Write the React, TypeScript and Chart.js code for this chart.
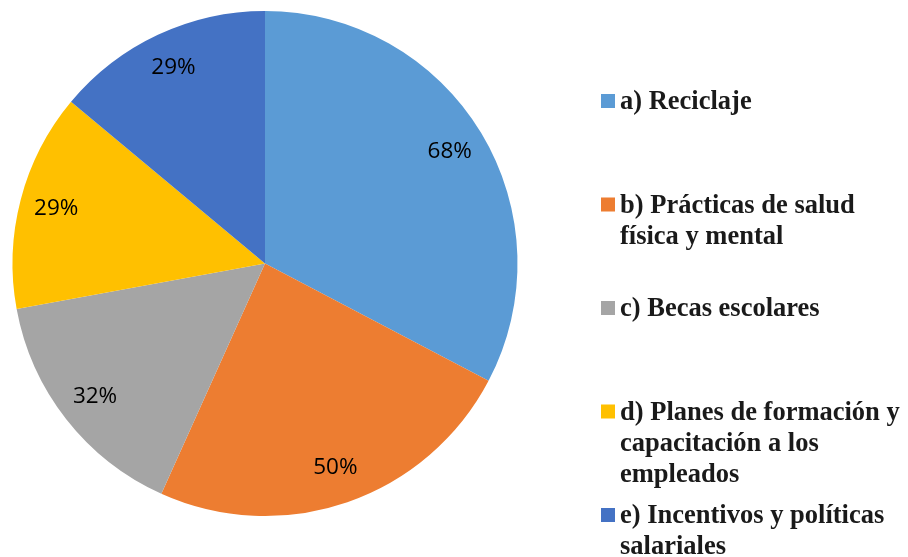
import React, { useEffect, useRef } from "react";
import { Chart, registerables } from "chart.js";

Chart.register(...registerables);

const categories: string[][] = [
  ["a) Reciclaje"],
  ["b) Prácticas de salud", "física y mental"],
  ["c) Becas escolares"],
  ["d) Planes de formación y", "capacitación a los", "empleados"],
  ["e) Incentivos y políticas", "salariales"],
];
const values: number[] = [68, 50, 32, 29, 29];
const valueLabels: string[] = ["68%", "50%", "32%", "29%", "29%"];
const colors: string[] = ["#5B9BD5", "#ED7D31", "#A5A5A5", "#FFC000", "#4472C4"];

const labelPlugin = {
  id: "sliceLabels",
  afterDatasetsDraw(chart: any) {
    const ctx = chart.ctx;
    const meta = chart.getDatasetMeta(0);
    ctx.save();
    ctx.font = "22.5px 'Open Sans', sans-serif";
    ctx.fillStyle = "#000000";
    ctx.textAlign = "center";
    ctx.textBaseline = "middle";
    meta.data.forEach((arc: any, i: number) => {
      const { x, y, startAngle, endAngle, outerRadius } = arc.getProps(
        ["x", "y", "startAngle", "endAngle", "outerRadius"],
        true
      );
      const mid = (startAngle + endAngle) / 2;
      const r = outerRadius * 0.855;
      ctx.fillText(valueLabels[i], x + Math.cos(mid) * r, y + Math.sin(mid) * r);
    });
    ctx.restore();
  },
};

const legendPlugin = {
  id: "sideLegend",
  afterDraw(chart: any) {
    const ctx = chart.ctx;
    ctx.save();
    ctx.font = "bold 26.5px 'Liberation Serif', 'Times New Roman', serif";
    ctx.textAlign = "left";
    ctx.textBaseline = "alphabetic";
    const boxX = 601;
    const textX = 620;
    const firstBaseline = 109;
    const step = 103.5;
    const lineH = 31;
    categories.forEach((lines, i) => {
      const base = firstBaseline + i * step;
      ctx.fillStyle = colors[i];
      ctx.fillRect(boxX, base - 15, 14, 14);
      ctx.fillStyle = "#1a1a1a";
      lines.forEach((line, j) => {
        ctx.fillText(line, textX, base + j * lineH);
      });
    });
    ctx.restore();
  },
};

export default function App() {
  const ref = useRef<HTMLCanvasElement | null>(null);
  useEffect(() => {
    if (!ref.current) return;
    const chart = new Chart(ref.current, {
      type: "pie",
      data: {
        labels: categories.map((l) => l.join(" ")),
        datasets: [
          {
            data: values,
            backgroundColor: colors,
            borderWidth: 0,
            hoverOffset: 0,
            offset: 0,
          },
        ],
      },
      options: {
        responsive: false,
        animation: false,
        layout: { padding: { left: 12, top: 11, right: 390, bottom: 41 } },
        plugins: {
          legend: { display: false },
          tooltip: { enabled: false },
        },
        events: [],
      },
      plugins: [labelPlugin, legendPlugin],
    });
    return () => chart.destroy();
  }, []);
  return (
    <div style={{ position: "absolute", left: 0, top: 0, width: 908, height: 557, background: "#fff" }}>
      <canvas ref={ref} width={908} height={557} />
    </div>
  );
}
